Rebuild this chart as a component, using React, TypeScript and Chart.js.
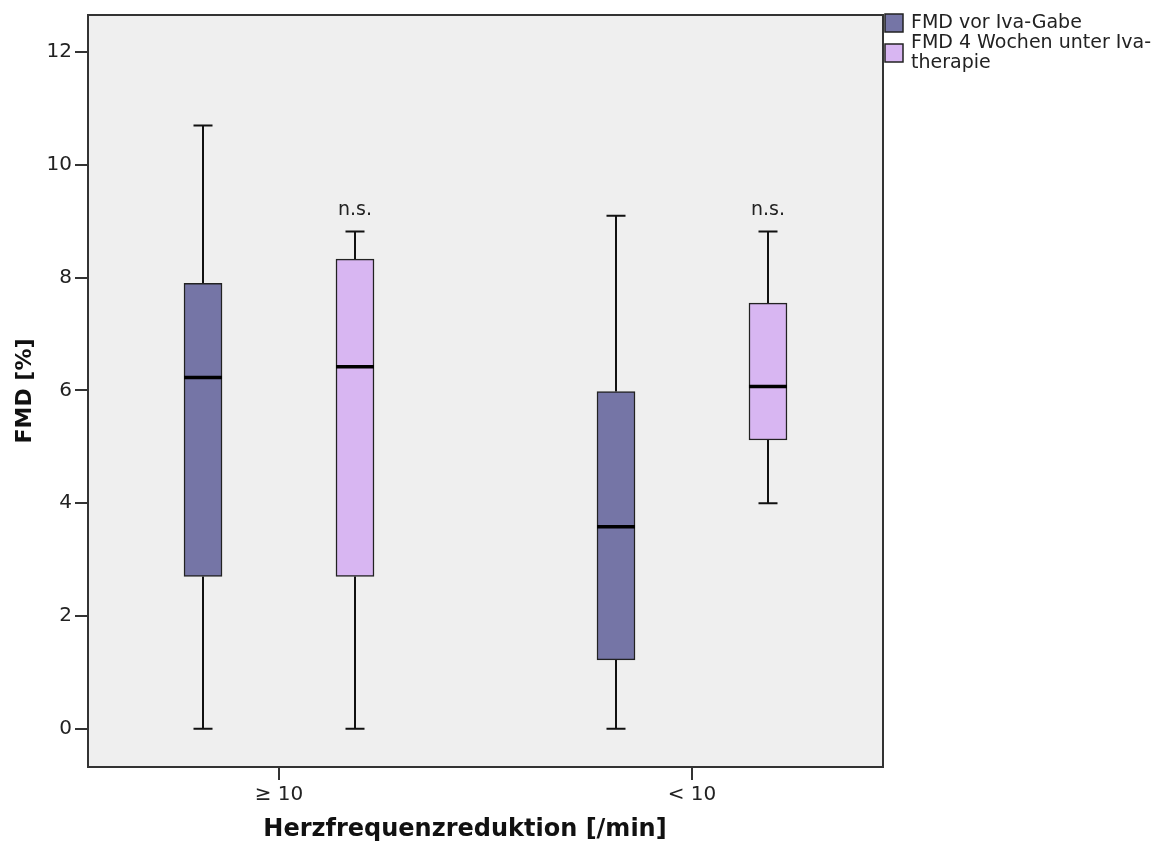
import React, { useEffect, useRef } from "react";
import { Chart, registerables } from "chart.js";

Chart.register(...registerables);

// ---- data ----
const groups = ["≥ 10", "< 10"];
const seriesLabels = ["FMD vor Iva-Gabe", "FMD 4 Wochen unter Iva-therapie"];
const legendLines = [["FMD vor Iva-Gabe"], ["FMD 4 Wochen unter Iva-", "therapie"]];

const vorMin = [0, 0];
const vorQ1 = [2.7, 1.22];
const vorMedian = [6.23, 3.58];
const vorQ3 = [7.9, 5.98];
const vorMax = [10.7, 9.1];

const unterMin = [0, 4.0];
const unterQ1 = [2.7, 5.12];
const unterMedian = [6.42, 6.07];
const unterQ3 = [8.33, 7.55];
const unterMax = [8.82, 8.82];

const annotations = ["n.s.", "n.s."];
const yTicks = [0, 2, 4, 6, 8, 10, 12];

const yTitle = "FMD [%]";
const xTitle = "Herzfrequenzreduktion [/min]";

// ---- style ----
const FONT = "'DejaVu Sans', sans-serif";
const colors = ["#7575A6", "#D8B6F2"];
const OFFSET = 0.184;

const series = [
  { min: vorMin, q1: vorQ1, med: vorMedian, q3: vorQ3, max: vorMax },
  { min: unterMin, q1: unterQ1, med: unterMedian, q3: unterQ3, max: unterMax },
];

const xPos = (g: number, s: number) => g + 1 + (s === 0 ? -OFFSET : OFFSET);

const boxPlugin = {
  id: "boxPlugin",
  beforeDraw(chart: any) {
    const { ctx, chartArea: a } = chart;
    ctx.save();
    ctx.fillStyle = "#EFEFEF";
    ctx.fillRect(a.left, a.top, a.right - a.left, a.bottom - a.top);
    ctx.restore();
  },
  beforeDatasetsDraw(chart: any) {
    const { ctx } = chart;
    const xs = chart.scales.x;
    const ys = chart.scales.y;
    ctx.save();
    ctx.strokeStyle = "#111";
    ctx.lineWidth = 2;
    series.forEach((s, si) => {
      groups.forEach((_, gi) => {
        const cx = Math.round(xs.getPixelForValue(xPos(gi, si)));
        const capW = 19;
        const pMin = ys.getPixelForValue(s.min[gi]);
        const pQ1 = ys.getPixelForValue(s.q1[gi]);
        const pQ3 = ys.getPixelForValue(s.q3[gi]);
        const pMax = ys.getPixelForValue(s.max[gi]);
        ctx.beginPath();
        ctx.moveTo(cx, pMin);
        ctx.lineTo(cx, pQ1);
        ctx.moveTo(cx, pQ3);
        ctx.lineTo(cx, pMax);
        ctx.moveTo(cx - capW / 2, pMin);
        ctx.lineTo(cx + capW / 2, pMin);
        ctx.moveTo(cx - capW / 2, pMax);
        ctx.lineTo(cx + capW / 2, pMax);
        ctx.stroke();
      });
    });
    ctx.restore();
  },
  afterDatasetsDraw(chart: any) {
    const { ctx } = chart;
    const xs = chart.scales.x;
    const ys = chart.scales.y;
    ctx.save();
    ctx.strokeStyle = "#000";
    ctx.lineWidth = 3.5;
    series.forEach((s, si) => {
      const meta = chart.getDatasetMeta(si);
      groups.forEach((_, gi) => {
        const el = meta.data[gi];
        const w = el ? el.width : 38;
        const cx = xs.getPixelForValue(xPos(gi, si));
        const py = ys.getPixelForValue(s.med[gi]);
        ctx.beginPath();
        ctx.moveTo(cx - w / 2, py);
        ctx.lineTo(cx + w / 2, py);
        ctx.stroke();
      });
    });
    // annotations
    ctx.fillStyle = "#222";
    ctx.font = `19px ${FONT}`;
    ctx.textAlign = "center";
    ctx.textBaseline = "middle";
    groups.forEach((_, gi) => {
      const cx = xs.getPixelForValue(xPos(gi, 1));
      const py = ys.getPixelForValue(unterMax[gi]) - 21;
      ctx.fillText(annotations[gi], cx, py);
    });
    ctx.restore();
  },
  afterDraw(chart: any) {
    const { ctx, chartArea: a } = chart;
    ctx.save();
    // frame
    ctx.strokeStyle = "#333";
    ctx.lineWidth = 2;
    ctx.strokeRect(a.left, a.top, a.right - a.left, a.bottom - a.top);

    // axis titles
    ctx.fillStyle = "#111";
    ctx.font = `bold 24px ${FONT}`;
    ctx.textAlign = "center";
    ctx.textBaseline = "middle";
    ctx.fillText(xTitle, 465, 830);
    ctx.save();
    ctx.translate(25, (a.top + a.bottom) / 2);
    ctx.rotate(-Math.PI / 2);
    ctx.font = `bold 22px ${FONT}`;
    ctx.fillText(yTitle, 0, 0);
    ctx.restore();

    // legend
    ctx.font = `19px ${FONT}`;
    ctx.textAlign = "left";
    ctx.textBaseline = "middle";
    const lx = a.right + 2;
    const lineH = 20;
    let y = 23;
    legendLines.forEach((lines, i) => {
      const n = lines.length;
      const centerY = y + ((n - 1) * lineH) / 2;
      ctx.fillStyle = colors[i];
      ctx.fillRect(lx, centerY - 9, 18, 18);
      ctx.strokeStyle = "#222";
      ctx.lineWidth = 1.5;
      ctx.strokeRect(lx, centerY - 9, 18, 18);
      ctx.fillStyle = "#222";
      lines.forEach((t, li) => ctx.fillText(t, lx + 26, y + li * lineH));
      y += n * lineH;
    });
    ctx.restore();
  },
};

export default function App() {
  const ref = useRef<HTMLCanvasElement | null>(null);
  useEffect(() => {
    if (!ref.current) return;
    const datasets = series.map((s, si) => ({
      label: seriesLabels[si],
      data: groups.map((_, gi) => ({ x: xPos(gi, si), y: [s.q1[gi], s.q3[gi]] })),
      backgroundColor: colors[si],
      borderColor: "#222",
      borderWidth: 1.5,
      borderSkipped: false,
      grouped: false,
      barPercentage: 1,
      categoryPercentage: 1,
      maxBarThickness: 38,
    }));
    const chart = new Chart(ref.current, {
      type: "bar",
      data: { datasets: datasets as any },
      plugins: [boxPlugin],
      options: {
        animation: false,
        responsive: false,
        maintainAspectRatio: false,
        layout: { padding: { left: 0, top: 11, right: 288, bottom: 0 } },
        plugins: { legend: { display: false }, tooltip: { enabled: false } },
        scales: {
          x: {
            type: "linear",
            offset: false,
            min: 0.5375,
            max: 2.4625,
            afterBuildTicks: (scale: any) => {
              scale.ticks = groups.map((_, i) => ({ value: i + 1 }));
            },
            afterFit: (scale: any) => {
              scale.height = 81;
            },
            ticks: {
              callback: (v: any) => groups[Math.round(v) - 1] ?? "",
              font: { family: FONT, size: 20 },
              color: "#222",
              padding: 3,
              maxRotation: 0,
              autoSkip: false,
            },
            grid: {
              display: true,
              offset: false,
              drawOnChartArea: false,
              drawTicks: true,
              tickLength: 13,
              color: "#333",
              lineWidth: 2,
            },
            border: { display: true, color: "#333", width: 2 },
          },
          y: {
            type: "linear",
            min: -0.68,
            max: 12.66,
            afterBuildTicks: (scale: any) => {
              scale.ticks = yTicks.map((v) => ({ value: v }));
            },
            afterFit: (scale: any) => {
              scale.width = 88;
            },
            ticks: {
              font: { family: FONT, size: 20 },
              color: "#222",
              padding: 3,
            },
            grid: {
              display: true,
              drawOnChartArea: false,
              drawTicks: true,
              tickLength: 13,
              color: "#333",
              lineWidth: 2,
            },
            border: { display: true, color: "#333", width: 2 },
          },
        },
      },
    });
    return () => chart.destroy();
  }, []);
  return (
    <div style={{ position: "fixed", left: 0, top: 0, width: 1171, height: 848, background: "#fff" }}>
      <canvas ref={ref} width={1171} height={848} style={{ width: 1171, height: 848, display: "block" }} />
    </div>
  );
}
